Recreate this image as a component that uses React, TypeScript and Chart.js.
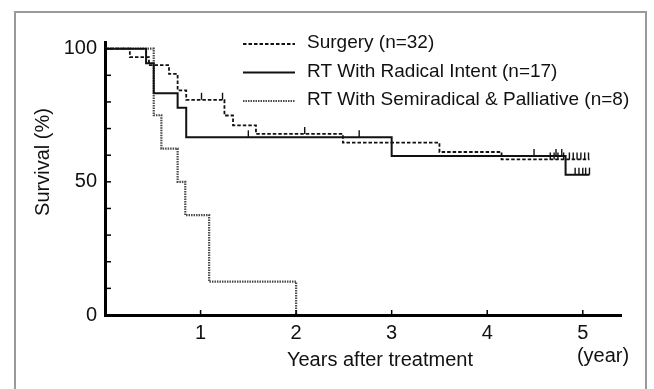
import React, { useEffect, useRef } from "react";
import { Chart, registerables } from "chart.js";

Chart.register(...registerables);

// ---- data ----
const seriesLabels = [
  "Surgery (n=32)",
  "RT With Radical Intent (n=17)",
  "RT With Semiradical & Palliative (n=8)",
];

const surgeryYears = [0, 0.26, 0.46, 0.67, 0.76, 0.85, 1.25, 1.34, 1.58, 2.49, 3.5, 4.15, 5.07];
const surgerySurvival = [100, 96.8, 93.8, 90.5, 84.3, 80.8, 74.9, 71.2, 68.0, 64.7, 61.2, 58.4, 58.4];
const surgeryCensorYears = [1.01, 1.23, 2.09, 4.66, 4.7, 4.74, 4.8, 4.86, 4.9, 4.94, 4.98, 5.02, 5.06];

const radicalYears = [0, 0.43, 0.51, 0.76, 0.85, 3.0, 4.82, 5.07];
const radicalSurvival = [100, 94.5, 83.3, 77.8, 66.7, 59.7, 52.7, 52.7];
const radicalCensorYears = [1.5, 2.66, 4.49, 4.72, 4.78, 4.92, 4.96, 5.0, 5.03, 5.07];

const semiYears = [0, 0.51, 0.59, 0.76, 0.84, 1.09, 2.0];
const semiSurvival = [100, 75, 62.5, 50, 37.5, 12.5, 0];
const semiCensorYears: number[] = [];

const xTickValues = [1, 2, 3, 4, 5];
const yTickValues = [0, 10, 20, 30, 40, 50, 60, 70, 80, 90, 100];
const yLabelValues = [0, 50, 100];

const FONT = "'Liberation Sans', Arial, Helvetica, sans-serif";

function levelAt(years: number[], surv: number[], t: number) {
  let v = surv[0];
  for (let i = 0; i < years.length; i++) if (years[i] <= t) v = surv[i];
  return v;
}

const toPoints = (xs: number[], ys: number[]) => xs.map((x, i) => ({ x, y: ys[i] }));

export default function App() {
  const ref = useRef<HTMLCanvasElement | null>(null);

  useEffect(() => {
    document.body.style.margin = "0";
    const canvas = ref.current;
    if (!canvas) return;

    const censorSets = [
      { years: surgeryYears, surv: surgerySurvival, censor: surgeryCensorYears },
      { years: radicalYears, surv: radicalSurvival, censor: radicalCensorYears },
      { years: semiYears, surv: semiSurvival, censor: semiCensorYears },
    ];

    const decorPlugin = {
      id: "decor",
      beforeDraw(chart: any) {
        const ctx = chart.ctx;
        ctx.save();
        ctx.fillStyle = "#fff";
        ctx.fillRect(0, 0, chart.width, chart.height);
        ctx.strokeStyle = "#9a9a9a";
        ctx.lineWidth = 2;
        ctx.strokeRect(15, 12, 631, 400);
        ctx.restore();
      },
      afterDraw(chart: any) {
        const ctx = chart.ctx;
        const xs = chart.scales.x;
        const ys = chart.scales.y;
        const area = chart.chartArea;
        ctx.save();
        // inward tick marks
        ctx.strokeStyle = "#000";
        ctx.lineWidth = 1.5;
        ctx.setLineDash([]);
        for (const v of yTickValues) {
          if (v === 0) continue;
          const y = ys.getPixelForValue(v);
          ctx.beginPath();
          ctx.moveTo(area.left, y);
          ctx.lineTo(area.left + 6, y);
          ctx.stroke();
        }
        for (const v of xTickValues) {
          const x = xs.getPixelForValue(v);
          ctx.beginPath();
          ctx.moveTo(x, area.bottom);
          ctx.lineTo(x, area.bottom - 5);
          ctx.stroke();
        }
        // censor marks
        censorSets.forEach((s, i) => {
          const ds = chart.data.datasets[i];
          ctx.strokeStyle = ds.borderColor;
          ctx.lineWidth = 1.4;
          for (const t of s.censor) {
            const x = xs.getPixelForValue(t);
            const y = ys.getPixelForValue(levelAt(s.years, s.surv, t));
            ctx.beginPath();
            ctx.moveTo(x, y);
            ctx.lineTo(x, y - 7);
            ctx.stroke();
          }
        });
        // legend
        const rowsY = [44, 72.5, 101];
        ctx.textBaseline = "middle";
        ctx.textAlign = "left";
        ctx.font = `19px ${FONT}`;
        chart.data.datasets.slice(0, 3).forEach((ds: any, i: number) => {
          const y = rowsY[i];
          ctx.strokeStyle = ds.borderColor;
          ctx.lineWidth = ds.borderWidth;
          ctx.setLineDash(ds.borderDash || []);
          ctx.beginPath();
          ctx.moveTo(243, y);
          ctx.lineTo(295, y);
          ctx.stroke();
          ctx.setLineDash([]);
          ctx.fillStyle = "#111";
          ctx.fillText(seriesLabels[i], 307, y - 1);
        });
        // axis titles
        ctx.fillStyle = "#111";
        ctx.font = `20px ${FONT}`;
        ctx.textAlign = "center";
        ctx.fillText("Years after treatment", 380, 360);
        ctx.fillText("(year)", 603, 356);
        ctx.translate(43, 162);
        ctx.rotate(-Math.PI / 2);
        ctx.fillText("Survival (%)", 0, 0);
        ctx.restore();
      },
    };

    const chart = new Chart(canvas, {
      type: "line",
      data: {
        datasets: [
          {
            label: seriesLabels[0],
            data: toPoints(surgeryYears, surgerySurvival),
            stepped: "before",
            borderColor: "#111",
            borderWidth: 1.8,
            borderDash: [3.5, 2],
            pointRadius: 0,
            fill: false,
          },
          {
            label: seriesLabels[1],
            data: toPoints(radicalYears, radicalSurvival),
            stepped: "before",
            borderColor: "#111",
            borderWidth: 2,
            pointRadius: 0,
            fill: false,
          },
          {
            label: seriesLabels[2],
            data: toPoints(semiYears, semiSurvival),
            stepped: "before",
            borderColor: "#4a4a4a",
            borderWidth: 2.2,
            borderDash: [1.5, 1],
            pointRadius: 0,
            fill: false,
          },
        ],
      },
      options: {
        animation: false,
        responsive: false,
        devicePixelRatio: 1,
        layout: { padding: { top: 42, right: 33, left: 0, bottom: 0 } },
        plugins: { legend: { display: false }, tooltip: { enabled: false } },
        scales: {
          x: {
            type: "linear",
            min: 0,
            max: 5.4,
            afterBuildTicks: (s: any) => {
              s.ticks = xTickValues.map((v) => ({ value: v }));
            },
            afterFit: (s: any) => {
              s.height = 74;
            },
            ticks: {
              color: "#111",
              font: { size: 20, family: FONT },
              padding: 6,
              maxRotation: 0,
              autoSkip: false,
            },
            grid: { display: false, drawTicks: false },
            border: { display: true, width: 3, color: "#000" },
          },
          y: {
            type: "linear",
            min: 0,
            max: 102.5,
            afterBuildTicks: (s: any) => {
              s.ticks = yTickValues.map((v) => ({ value: v }));
            },
            afterFit: (s: any) => {
              s.width = 105;
            },
            ticks: {
              color: "#111",
              font: { size: 20, family: FONT },
              padding: 8,
              autoSkip: false,
              callback: (v: any) => (yLabelValues.includes(Number(v)) ? String(v) : ""),
            },
            grid: { display: false, drawTicks: false },
            border: { display: true, width: 3, color: "#000" },
          },
        },
      },
      plugins: [decorPlugin],
    } as any);

    return () => chart.destroy();
  }, []);

  return (
    <div style={{ width: 654, height: 389, position: "relative" }}>
      <canvas ref={ref} width={654} height={389} style={{ display: "block", width: 654, height: 389 }} />
    </div>
  );
}
